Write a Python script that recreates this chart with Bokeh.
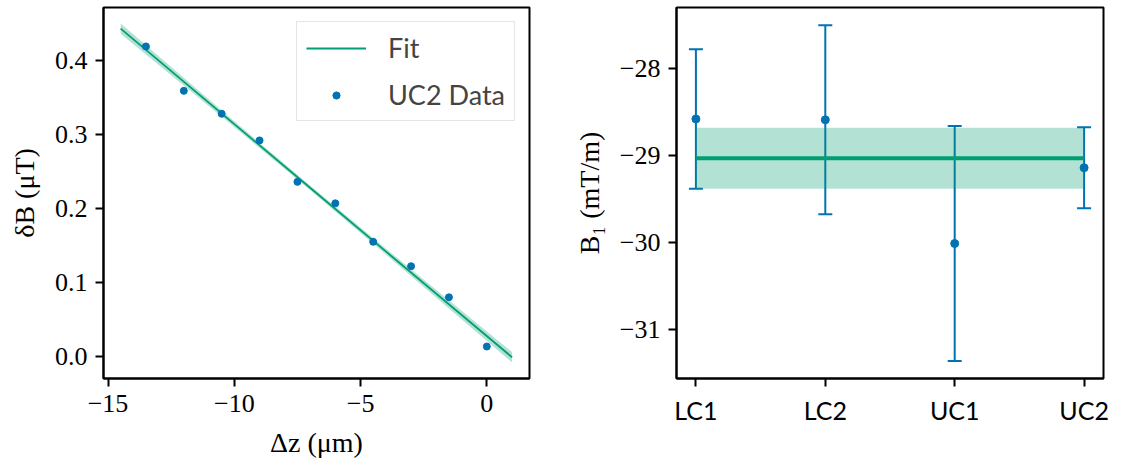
from bokeh.plotting import figure
from bokeh.layouts import row
from bokeh.models import (FixedTicker, Whisker, TeeHead, ColumnDataSource, Range1d,
                          Legend, LegendItem)
from bokeh.embed import file_html
from bokeh.resources import INLINE

# ---------------- data ----------------
dz = [-13.5, -12.0, -10.5, -9.0, -7.5, -6.0, -4.5, -3.0, -1.5, 0.0]
dB = [0.419, 0.359, 0.328, 0.292, 0.236, 0.207, 0.155, 0.122, 0.080, 0.0135]

fit_x = [-14.5, -10.0, -7.0, -4.0, 1.0]
fit_y = [0.443, 0.314, 0.228, 0.142, -0.001]
fit_lo = [0.436, 0.310, 0.225, 0.138, -0.008]
fit_hi = [0.450, 0.318, 0.231, 0.146, 0.006]

categories = ["LC1", "LC2", "UC1", "UC2"]
b1 = [-28.58, -28.59, -30.01, -29.14]
b1_err = [0.80, 1.085, 1.35, 0.465]
b1_mean = -29.03
b1_mean_err = 0.35

xticks_left = [-15, -10, -5, 0]
yticks_left = [0.0, 0.1, 0.2, 0.3, 0.4]
yticks_right = [-31, -30, -29, -28]

BLUE = "#0173b2"
GREEN = "#029e73"
SERIF = "Liberation Serif"
SANS = "Lato"
TICK_FS = "26px"
LABEL_FS = "28px"


def style(p):
    p.grid.visible = False
    p.outline_line_color = "black"
    p.outline_line_width = 2
    p.outline_line_alpha = 1
    for ax in p.axis:
        ax.axis_line_width = 2
        ax.major_tick_line_width = 2
        ax.major_tick_in = 0
        ax.major_tick_out = 8
        ax.minor_tick_line_color = None
        ax.major_label_text_font = SERIF
        ax.major_label_text_font_size = TICK_FS
        ax.major_label_text_color = "black"
        ax.axis_label_text_font = SERIF
        ax.axis_label_text_font_size = LABEL_FS
        ax.axis_label_text_font_style = "normal"
        ax.axis_label_text_color = "black"
        ax.major_label_standoff = 8
        ax.axis_label_standoff = 12


def minus(v, fmt):
    return (fmt % v).replace("-", "\u2212")


# ---------------- left panel ----------------
p1 = figure(frame_width=426, frame_height=371, output_backend="svg",
            toolbar_location=None,
            x_range=Range1d(-15.18, 1.69), y_range=Range1d(-0.0297, 0.4716),
            min_border_left=103, min_border_right=31, min_border_top=7,
            min_border_bottom=82)
style(p1)
p1.varea(x=fit_x, y1=fit_lo, y2=fit_hi, fill_color=GREEN, fill_alpha=0.3)
r_fit = p1.line(fit_x, fit_y, line_color=GREEN, line_width=1.8)
r_dat = p1.scatter(dz, dB, size=7, color=BLUE)
p1.xaxis.ticker = FixedTicker(ticks=xticks_left)
p1.xaxis.major_label_overrides = {t: minus(t, "%d") for t in xticks_left}
p1.yaxis.ticker = FixedTicker(ticks=yticks_left)
p1.yaxis.major_label_overrides = {t: "%.1f" % t for t in yticks_left}
p1.xaxis.axis_label = "\u0394z (\u03bcm)"
p1.yaxis.axis_label = "\u03b4B (\u03bcT)"

leg = Legend(items=[LegendItem(label="Fit", renderers=[r_fit]),
                    LegendItem(label="UC2 Data", renderers=[r_dat])],
             location="top_right")
leg.label_text_font = SANS
leg.label_text_font_size = "27px"
leg.label_height = 28
leg.glyph_width = 60
leg.glyph_height = 18
leg.label_standoff = 22
leg.padding = 9
leg.spacing = 14
leg.margin = 14
leg.border_line_color = "#cccccc"
leg.border_line_width = 1.5
leg.background_fill_alpha = 0.8
p1.add_layout(leg)

# ---------------- right panel ----------------
xs = list(range(len(categories)))
src = ColumnDataSource(dict(x=xs, y=b1,
                            upper=[v + e for v, e in zip(b1, b1_err)],
                            lower=[v - e for v, e in zip(b1, b1_err)]))
p2 = figure(frame_width=427, frame_height=371, output_backend="svg",
            toolbar_location=None,
            x_range=Range1d(-0.15, 3.15), y_range=Range1d(-31.56, -27.30),
            min_border_left=116, min_border_right=20, min_border_top=7,
            min_border_bottom=82)
style(p2)
p2.varea(x=[xs[0], xs[-1]], y1=[b1_mean - b1_mean_err] * 2,
         y2=[b1_mean + b1_mean_err] * 2, fill_color=GREEN, fill_alpha=0.3)
p2.line([xs[0], xs[-1]], [b1_mean, b1_mean], line_color=GREEN, line_width=4)
wh = Whisker(base="x", upper="upper", lower="lower", source=src,
             line_color=BLUE, line_width=2,
             upper_head=TeeHead(size=14, line_color=BLUE, line_width=2),
             lower_head=TeeHead(size=14, line_color=BLUE, line_width=2))
p2.add_layout(wh)
p2.scatter("x", "y", source=src, size=8, color=BLUE)
p2.xaxis.ticker = FixedTicker(ticks=xs)
p2.xaxis.major_label_overrides = {i: c for i, c in zip(xs, categories)}
p2.xaxis.major_label_text_font = SANS
p2.xaxis.major_label_text_font_size = "25px"
p2.yaxis.ticker = FixedTicker(ticks=yticks_right)
p2.yaxis.major_label_overrides = {t: minus(t, "%d") for t in yticks_right}
p2.yaxis.axis_label = "B\u2081 (mT/m)"

layout = row(p1, p2)
open("out.html", "w").write(file_html(layout, INLINE))
